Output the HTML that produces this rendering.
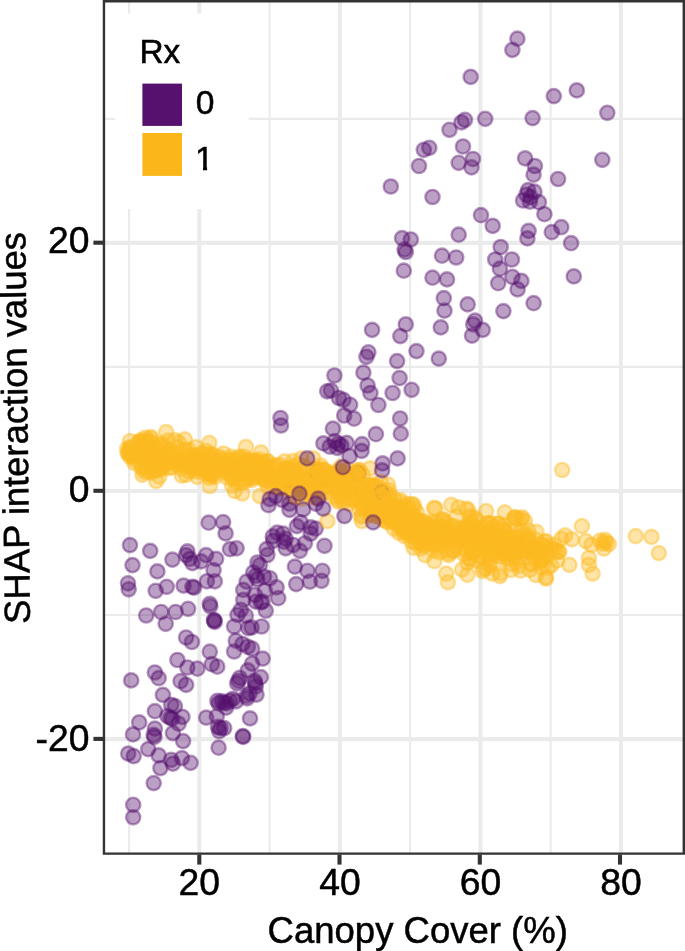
<!DOCTYPE html>
<html><head><meta charset="utf-8"><title>SHAP interaction plot</title>
<style>
html,body{margin:0;padding:0;background:#fff}
svg{display:block;will-change:transform}
text{font-family:"Liberation Sans",sans-serif;fill:#000;stroke:#000;stroke-width:0.5px}
</style></head><body>
<svg width="685" height="951" viewBox="0 0 685 951">
<rect width="685" height="951" fill="#fff"/>
<g stroke="#ebebeb"><line x1="129.1" x2="129.1" y1="2" y2="853" stroke-width="2.1"/><line x1="269.6" x2="269.6" y1="2" y2="853" stroke-width="2.1"/><line x1="410.1" x2="410.1" y1="2" y2="853" stroke-width="2.1"/><line x1="550.6" x2="550.6" y1="2" y2="853" stroke-width="2.1"/><line y1="118.9" y2="118.9" x1="105" x2="683" stroke-width="2.1"/><line y1="366.9" y2="366.9" x1="105" x2="683" stroke-width="2.1"/><line y1="615.0" y2="615.0" x1="105" x2="683" stroke-width="2.1"/><line x1="199.3" x2="199.3" y1="2" y2="853" stroke-width="4.1"/><line x1="339.9" x2="339.9" y1="2" y2="853" stroke-width="4.1"/><line x1="480.4" x2="480.4" y1="2" y2="853" stroke-width="4.1"/><line x1="620.9" x2="620.9" y1="2" y2="853" stroke-width="4.1"/><line y1="242.9" y2="242.9" x1="105" x2="683" stroke-width="4.1"/><line y1="491.0" y2="491.0" x1="105" x2="683" stroke-width="4.1"/><line y1="739.1" y2="739.1" x1="105" x2="683" stroke-width="4.1"/></g>
<g class="p" fill="#fcbb22" fill-opacity="0.4" stroke="#fcbb22" stroke-opacity="0.42" stroke-width="2.4"><circle cx="248.0" cy="477.1" r="7.15"/><circle cx="438.7" cy="529.3" r="7.15"/><circle cx="225.1" cy="467.0" r="7.15"/><circle cx="372.9" cy="506.8" r="7.15"/><circle cx="252.2" cy="479.8" r="7.15"/><circle cx="231.0" cy="462.4" r="7.15"/><circle cx="454.6" cy="538.8" r="7.15"/><circle cx="170.1" cy="462.1" r="7.15"/><circle cx="213.1" cy="466.9" r="7.15"/><circle cx="212.4" cy="475.7" r="7.15"/><circle cx="502.8" cy="557.5" r="7.15"/><circle cx="255.1" cy="468.2" r="7.15"/><circle cx="263.4" cy="479.1" r="7.15"/><circle cx="313.9" cy="484.6" r="7.15"/><circle cx="314.9" cy="482.8" r="7.15"/><circle cx="160.7" cy="468.1" r="7.15"/><circle cx="295.8" cy="485.8" r="7.15"/><circle cx="313.0" cy="473.5" r="7.15"/><circle cx="238.5" cy="473.1" r="7.15"/><circle cx="458.9" cy="528.3" r="7.15"/><circle cx="348.4" cy="488.0" r="7.15"/><circle cx="254.5" cy="462.4" r="7.15"/><circle cx="367.3" cy="494.5" r="7.15"/><circle cx="362.1" cy="515.6" r="7.15"/><circle cx="400.9" cy="500.3" r="7.15"/><circle cx="436.5" cy="522.6" r="7.15"/><circle cx="469.6" cy="558.5" r="7.15"/><circle cx="353.5" cy="482.7" r="7.15"/><circle cx="379.7" cy="504.5" r="7.15"/><circle cx="407.5" cy="509.4" r="7.15"/><circle cx="475.4" cy="550.3" r="7.15"/><circle cx="382.8" cy="519.6" r="7.15"/><circle cx="400.9" cy="527.0" r="7.15"/><circle cx="466.5" cy="535.1" r="7.15"/><circle cx="356.9" cy="498.5" r="7.15"/><circle cx="334.3" cy="476.8" r="7.15"/><circle cx="151.5" cy="447.6" r="7.15"/><circle cx="245.0" cy="464.0" r="7.15"/><circle cx="139.4" cy="441.5" r="7.15"/><circle cx="540.8" cy="555.1" r="7.15"/><circle cx="421.5" cy="532.2" r="7.15"/><circle cx="261.2" cy="473.5" r="7.15"/><circle cx="288.5" cy="472.0" r="7.15"/><circle cx="444.4" cy="527.7" r="7.15"/><circle cx="246.5" cy="463.7" r="7.15"/><circle cx="187.8" cy="461.6" r="7.15"/><circle cx="161.7" cy="446.6" r="7.15"/><circle cx="153.4" cy="446.6" r="7.15"/><circle cx="400.6" cy="523.8" r="7.15"/><circle cx="415.0" cy="517.5" r="7.15"/><circle cx="260.2" cy="465.0" r="7.15"/><circle cx="540.5" cy="550.5" r="7.15"/><circle cx="450.7" cy="525.6" r="7.15"/><circle cx="512.1" cy="537.4" r="7.15"/><circle cx="201.5" cy="453.3" r="7.15"/><circle cx="476.5" cy="520.8" r="7.15"/><circle cx="209.9" cy="473.0" r="7.15"/><circle cx="295.7" cy="470.3" r="7.15"/><circle cx="507.8" cy="553.2" r="7.15"/><circle cx="141.9" cy="468.1" r="7.15"/><circle cx="533.9" cy="555.3" r="7.15"/><circle cx="175.4" cy="461.4" r="7.15"/><circle cx="490.1" cy="538.2" r="7.15"/><circle cx="145.9" cy="461.0" r="7.15"/><circle cx="463.1" cy="529.7" r="7.15"/><circle cx="391.2" cy="520.0" r="7.15"/><circle cx="433.8" cy="550.7" r="7.15"/><circle cx="158.7" cy="463.4" r="7.15"/><circle cx="471.6" cy="533.0" r="7.15"/><circle cx="333.0" cy="477.0" r="7.15"/><circle cx="137.6" cy="455.9" r="7.15"/><circle cx="382.1" cy="493.9" r="7.15"/><circle cx="247.8" cy="475.1" r="7.15"/><circle cx="180.5" cy="460.4" r="7.15"/><circle cx="488.5" cy="523.4" r="7.15"/><circle cx="223.4" cy="453.5" r="7.15"/><circle cx="442.7" cy="519.5" r="7.15"/><circle cx="244.6" cy="456.9" r="7.15"/><circle cx="278.0" cy="477.2" r="7.15"/><circle cx="434.6" cy="526.8" r="7.15"/><circle cx="187.2" cy="456.2" r="7.15"/><circle cx="435.5" cy="532.2" r="7.15"/><circle cx="500.7" cy="556.3" r="7.15"/><circle cx="276.6" cy="477.8" r="7.15"/><circle cx="389.4" cy="494.5" r="7.15"/><circle cx="512.8" cy="555.6" r="7.15"/><circle cx="404.4" cy="511.8" r="7.15"/><circle cx="181.8" cy="475.6" r="7.15"/><circle cx="456.2" cy="516.6" r="7.15"/><circle cx="473.2" cy="547.3" r="7.15"/><circle cx="294.8" cy="474.7" r="7.15"/><circle cx="512.0" cy="564.1" r="7.15"/><circle cx="137.6" cy="452.1" r="7.15"/><circle cx="321.7" cy="468.8" r="7.15"/><circle cx="383.7" cy="490.3" r="7.15"/><circle cx="363.1" cy="498.2" r="7.15"/><circle cx="284.6" cy="461.4" r="7.15"/><circle cx="536.5" cy="531.9" r="7.15"/><circle cx="419.2" cy="537.7" r="7.15"/><circle cx="489.0" cy="565.4" r="7.15"/><circle cx="188.9" cy="455.3" r="7.15"/><circle cx="400.5" cy="516.5" r="7.15"/><circle cx="545.2" cy="556.4" r="7.15"/><circle cx="462.0" cy="569.6" r="7.15"/><circle cx="258.8" cy="459.3" r="7.15"/><circle cx="390.4" cy="505.8" r="7.15"/><circle cx="363.2" cy="507.4" r="7.15"/><circle cx="385.2" cy="497.7" r="7.15"/><circle cx="415.7" cy="531.3" r="7.15"/><circle cx="502.5" cy="548.1" r="7.15"/><circle cx="388.0" cy="506.2" r="7.15"/><circle cx="289.8" cy="489.3" r="7.15"/><circle cx="185.8" cy="459.8" r="7.15"/><circle cx="489.9" cy="542.5" r="7.15"/><circle cx="422.7" cy="544.6" r="7.15"/><circle cx="473.8" cy="527.2" r="7.15"/><circle cx="372.0" cy="493.9" r="7.15"/><circle cx="407.8" cy="504.1" r="7.15"/><circle cx="191.6" cy="468.8" r="7.15"/><circle cx="165.6" cy="447.7" r="7.15"/><circle cx="513.3" cy="519.5" r="7.15"/><circle cx="170.2" cy="450.2" r="7.15"/><circle cx="474.9" cy="533.1" r="7.15"/><circle cx="163.9" cy="464.0" r="7.15"/><circle cx="463.9" cy="554.2" r="7.15"/><circle cx="554.5" cy="544.8" r="7.15"/><circle cx="245.9" cy="461.4" r="7.15"/><circle cx="265.5" cy="468.5" r="7.15"/><circle cx="272.3" cy="476.4" r="7.15"/><circle cx="404.8" cy="520.2" r="7.15"/><circle cx="483.9" cy="527.1" r="7.15"/><circle cx="503.2" cy="553.8" r="7.15"/><circle cx="419.1" cy="533.2" r="7.15"/><circle cx="273.4" cy="485.0" r="7.15"/><circle cx="438.1" cy="534.8" r="7.15"/><circle cx="504.2" cy="532.3" r="7.15"/><circle cx="491.3" cy="554.2" r="7.15"/><circle cx="418.2" cy="536.9" r="7.15"/><circle cx="152.8" cy="450.5" r="7.15"/><circle cx="278.5" cy="488.6" r="7.15"/><circle cx="340.3" cy="487.8" r="7.15"/><circle cx="336.7" cy="475.4" r="7.15"/><circle cx="517.8" cy="538.1" r="7.15"/><circle cx="235.8" cy="475.2" r="7.15"/><circle cx="387.3" cy="506.7" r="7.15"/><circle cx="368.4" cy="488.8" r="7.15"/><circle cx="359.6" cy="470.1" r="7.15"/><circle cx="241.1" cy="483.2" r="7.15"/><circle cx="404.6" cy="536.3" r="7.15"/><circle cx="505.4" cy="549.1" r="7.15"/><circle cx="420.5" cy="526.7" r="7.15"/><circle cx="371.3" cy="488.9" r="7.15"/><circle cx="475.5" cy="550.8" r="7.15"/><circle cx="286.3" cy="468.9" r="7.15"/><circle cx="203.1" cy="469.5" r="7.15"/><circle cx="151.0" cy="472.6" r="7.15"/><circle cx="209.7" cy="462.9" r="7.15"/><circle cx="144.3" cy="471.8" r="7.15"/><circle cx="386.6" cy="521.4" r="7.15"/><circle cx="135.8" cy="455.1" r="7.15"/><circle cx="210.8" cy="465.1" r="7.15"/><circle cx="490.3" cy="554.9" r="7.15"/><circle cx="514.5" cy="552.4" r="7.15"/><circle cx="511.3" cy="539.5" r="7.15"/><circle cx="394.0" cy="519.1" r="7.15"/><circle cx="289.9" cy="470.8" r="7.15"/><circle cx="313.3" cy="458.4" r="7.15"/><circle cx="367.1" cy="485.3" r="7.15"/><circle cx="274.3" cy="465.8" r="7.15"/><circle cx="294.8" cy="474.0" r="7.15"/><circle cx="409.8" cy="521.6" r="7.15"/><circle cx="489.9" cy="563.7" r="7.15"/><circle cx="532.0" cy="564.5" r="7.15"/><circle cx="486.8" cy="537.9" r="7.15"/><circle cx="192.3" cy="458.7" r="7.15"/><circle cx="408.7" cy="508.8" r="7.15"/><circle cx="532.3" cy="553.1" r="7.15"/><circle cx="544.4" cy="545.5" r="7.15"/><circle cx="149.6" cy="461.5" r="7.15"/><circle cx="147.8" cy="471.6" r="7.15"/><circle cx="405.5" cy="516.1" r="7.15"/><circle cx="227.0" cy="467.7" r="7.15"/><circle cx="467.3" cy="531.2" r="7.15"/><circle cx="147.5" cy="442.4" r="7.15"/><circle cx="215.5" cy="467.7" r="7.15"/><circle cx="492.2" cy="573.6" r="7.15"/><circle cx="227.5" cy="473.7" r="7.15"/><circle cx="450.4" cy="528.8" r="7.15"/><circle cx="424.9" cy="525.8" r="7.15"/><circle cx="394.4" cy="517.7" r="7.15"/><circle cx="160.2" cy="463.8" r="7.15"/><circle cx="439.1" cy="539.6" r="7.15"/><circle cx="161.8" cy="443.6" r="7.15"/><circle cx="369.6" cy="510.3" r="7.15"/><circle cx="478.5" cy="550.9" r="7.15"/><circle cx="303.0" cy="477.4" r="7.15"/><circle cx="460.1" cy="535.0" r="7.15"/><circle cx="272.2" cy="473.6" r="7.15"/><circle cx="218.2" cy="470.1" r="7.15"/><circle cx="295.5" cy="480.3" r="7.15"/><circle cx="345.8" cy="479.1" r="7.15"/><circle cx="130.4" cy="450.3" r="7.15"/><circle cx="368.8" cy="508.9" r="7.15"/><circle cx="138.1" cy="452.2" r="7.15"/><circle cx="272.8" cy="480.5" r="7.15"/><circle cx="302.6" cy="474.1" r="7.15"/><circle cx="230.1" cy="459.7" r="7.15"/><circle cx="414.1" cy="508.1" r="7.15"/><circle cx="437.4" cy="543.2" r="7.15"/><circle cx="403.1" cy="531.7" r="7.15"/><circle cx="139.7" cy="445.9" r="7.15"/><circle cx="414.6" cy="531.1" r="7.15"/><circle cx="478.3" cy="531.4" r="7.15"/><circle cx="491.3" cy="529.3" r="7.15"/><circle cx="469.9" cy="518.1" r="7.15"/><circle cx="435.5" cy="508.5" r="7.15"/><circle cx="472.5" cy="527.8" r="7.15"/><circle cx="413.6" cy="535.1" r="7.15"/><circle cx="537.8" cy="548.1" r="7.15"/><circle cx="211.4" cy="470.9" r="7.15"/><circle cx="535.2" cy="551.2" r="7.15"/><circle cx="417.7" cy="528.9" r="7.15"/><circle cx="516.9" cy="551.3" r="7.15"/><circle cx="254.0" cy="462.7" r="7.15"/><circle cx="516.0" cy="536.6" r="7.15"/><circle cx="145.9" cy="443.6" r="7.15"/><circle cx="398.8" cy="532.8" r="7.15"/><circle cx="188.8" cy="449.7" r="7.15"/><circle cx="333.8" cy="496.3" r="7.15"/><circle cx="134.4" cy="463.1" r="7.15"/><circle cx="193.5" cy="465.4" r="7.15"/><circle cx="370.1" cy="468.4" r="7.15"/><circle cx="415.0" cy="537.8" r="7.15"/><circle cx="532.5" cy="547.6" r="7.15"/><circle cx="147.8" cy="456.1" r="7.15"/><circle cx="221.1" cy="458.6" r="7.15"/><circle cx="307.1" cy="492.9" r="7.15"/><circle cx="406.2" cy="523.9" r="7.15"/><circle cx="407.6" cy="534.6" r="7.15"/><circle cx="278.7" cy="477.2" r="7.15"/><circle cx="475.3" cy="536.7" r="7.15"/><circle cx="177.1" cy="456.5" r="7.15"/><circle cx="345.1" cy="492.8" r="7.15"/><circle cx="435.1" cy="546.1" r="7.15"/><circle cx="327.1" cy="472.0" r="7.15"/><circle cx="309.9" cy="489.5" r="7.15"/><circle cx="150.3" cy="442.1" r="7.15"/><circle cx="445.7" cy="522.8" r="7.15"/><circle cx="163.7" cy="465.3" r="7.15"/><circle cx="340.1" cy="471.5" r="7.15"/><circle cx="163.5" cy="459.9" r="7.15"/><circle cx="492.7" cy="549.4" r="7.15"/><circle cx="416.6" cy="520.3" r="7.15"/><circle cx="202.7" cy="466.0" r="7.15"/><circle cx="294.8" cy="480.1" r="7.15"/><circle cx="183.5" cy="465.2" r="7.15"/><circle cx="502.4" cy="528.8" r="7.15"/><circle cx="330.6" cy="483.1" r="7.15"/><circle cx="462.5" cy="547.4" r="7.15"/><circle cx="340.9" cy="493.2" r="7.15"/><circle cx="209.5" cy="466.9" r="7.15"/><circle cx="211.9" cy="475.4" r="7.15"/><circle cx="285.6" cy="488.5" r="7.15"/><circle cx="316.1" cy="473.7" r="7.15"/><circle cx="505.7" cy="547.5" r="7.15"/><circle cx="379.8" cy="506.5" r="7.15"/><circle cx="311.9" cy="496.8" r="7.15"/><circle cx="264.1" cy="473.8" r="7.15"/><circle cx="216.3" cy="468.6" r="7.15"/><circle cx="521.6" cy="544.6" r="7.15"/><circle cx="458.8" cy="540.7" r="7.15"/><circle cx="328.1" cy="485.3" r="7.15"/><circle cx="391.0" cy="505.8" r="7.15"/><circle cx="375.6" cy="501.6" r="7.15"/><circle cx="400.4" cy="519.2" r="7.15"/><circle cx="507.7" cy="558.8" r="7.15"/><circle cx="246.4" cy="474.7" r="7.15"/><circle cx="439.6" cy="552.5" r="7.15"/><circle cx="219.0" cy="456.7" r="7.15"/><circle cx="378.4" cy="488.5" r="7.15"/><circle cx="432.6" cy="528.0" r="7.15"/><circle cx="163.5" cy="462.4" r="7.15"/><circle cx="470.8" cy="559.2" r="7.15"/><circle cx="481.5" cy="535.3" r="7.15"/><circle cx="336.5" cy="488.1" r="7.15"/><circle cx="500.2" cy="540.5" r="7.15"/><circle cx="420.3" cy="535.5" r="7.15"/><circle cx="270.7" cy="473.6" r="7.15"/><circle cx="468.1" cy="509.9" r="7.15"/><circle cx="153.8" cy="464.3" r="7.15"/><circle cx="395.6" cy="522.9" r="7.15"/><circle cx="378.2" cy="491.6" r="7.15"/><circle cx="559.3" cy="551.8" r="7.15"/><circle cx="316.2" cy="498.2" r="7.15"/><circle cx="127.7" cy="453.1" r="7.15"/><circle cx="179.1" cy="460.6" r="7.15"/><circle cx="387.8" cy="522.3" r="7.15"/><circle cx="150.8" cy="461.9" r="7.15"/><circle cx="195.9" cy="461.6" r="7.15"/><circle cx="503.1" cy="553.3" r="7.15"/><circle cx="286.3" cy="468.8" r="7.15"/><circle cx="279.0" cy="482.1" r="7.15"/><circle cx="530.3" cy="545.1" r="7.15"/><circle cx="378.8" cy="508.6" r="7.15"/><circle cx="330.6" cy="487.2" r="7.15"/><circle cx="233.8" cy="476.8" r="7.15"/><circle cx="439.4" cy="544.0" r="7.15"/><circle cx="383.1" cy="496.9" r="7.15"/><circle cx="156.8" cy="470.0" r="7.15"/><circle cx="338.7" cy="490.6" r="7.15"/><circle cx="263.4" cy="467.4" r="7.15"/><circle cx="371.3" cy="486.3" r="7.15"/><circle cx="435.9" cy="531.5" r="7.15"/><circle cx="210.5" cy="454.6" r="7.15"/><circle cx="369.6" cy="496.8" r="7.15"/><circle cx="465.0" cy="541.3" r="7.15"/><circle cx="442.5" cy="521.3" r="7.15"/><circle cx="464.3" cy="539.5" r="7.15"/><circle cx="152.0" cy="443.2" r="7.15"/><circle cx="283.9" cy="469.7" r="7.15"/><circle cx="141.4" cy="455.0" r="7.15"/><circle cx="284.4" cy="483.7" r="7.15"/><circle cx="326.4" cy="481.0" r="7.15"/><circle cx="178.8" cy="442.3" r="7.15"/><circle cx="364.5" cy="502.2" r="7.15"/><circle cx="267.8" cy="486.8" r="7.15"/><circle cx="487.7" cy="554.1" r="7.15"/><circle cx="195.2" cy="471.3" r="7.15"/><circle cx="484.0" cy="537.4" r="7.15"/><circle cx="264.1" cy="462.2" r="7.15"/><circle cx="290.4" cy="477.2" r="7.15"/><circle cx="253.9" cy="476.9" r="7.15"/><circle cx="554.6" cy="549.3" r="7.15"/><circle cx="337.8" cy="499.9" r="7.15"/><circle cx="477.4" cy="534.1" r="7.15"/><circle cx="235.7" cy="469.1" r="7.15"/><circle cx="263.6" cy="471.4" r="7.15"/><circle cx="265.7" cy="481.0" r="7.15"/><circle cx="413.1" cy="515.1" r="7.15"/><circle cx="351.9" cy="497.3" r="7.15"/><circle cx="207.8" cy="468.4" r="7.15"/><circle cx="252.2" cy="473.1" r="7.15"/><circle cx="389.0" cy="517.6" r="7.15"/><circle cx="408.2" cy="532.5" r="7.15"/><circle cx="138.6" cy="456.7" r="7.15"/><circle cx="482.5" cy="557.1" r="7.15"/><circle cx="318.6" cy="473.6" r="7.15"/><circle cx="437.1" cy="539.1" r="7.15"/><circle cx="143.5" cy="447.6" r="7.15"/><circle cx="229.7" cy="462.4" r="7.15"/><circle cx="202.4" cy="464.4" r="7.15"/><circle cx="330.1" cy="473.9" r="7.15"/><circle cx="234.1" cy="466.9" r="7.15"/><circle cx="196.6" cy="457.7" r="7.15"/><circle cx="356.7" cy="487.2" r="7.15"/><circle cx="516.6" cy="551.7" r="7.15"/><circle cx="551.4" cy="565.4" r="7.15"/><circle cx="534.5" cy="559.9" r="7.15"/><circle cx="516.2" cy="562.9" r="7.15"/><circle cx="540.9" cy="554.2" r="7.15"/><circle cx="473.9" cy="528.0" r="7.15"/><circle cx="505.9" cy="530.7" r="7.15"/><circle cx="416.3" cy="528.8" r="7.15"/><circle cx="192.1" cy="455.3" r="7.15"/><circle cx="417.0" cy="512.4" r="7.15"/><circle cx="301.3" cy="458.6" r="7.15"/><circle cx="333.8" cy="474.4" r="7.15"/><circle cx="556.6" cy="551.4" r="7.15"/><circle cx="233.3" cy="468.3" r="7.15"/><circle cx="541.9" cy="567.5" r="7.15"/><circle cx="496.8" cy="543.6" r="7.15"/><circle cx="374.2" cy="486.1" r="7.15"/><circle cx="347.7" cy="473.3" r="7.15"/><circle cx="286.1" cy="478.9" r="7.15"/><circle cx="162.7" cy="458.1" r="7.15"/><circle cx="293.0" cy="496.6" r="7.15"/><circle cx="357.3" cy="471.0" r="7.15"/><circle cx="298.1" cy="478.8" r="7.15"/><circle cx="509.8" cy="551.8" r="7.15"/><circle cx="527.0" cy="550.8" r="7.15"/><circle cx="363.6" cy="508.2" r="7.15"/><circle cx="410.2" cy="522.8" r="7.15"/><circle cx="254.1" cy="477.7" r="7.15"/><circle cx="493.1" cy="541.3" r="7.15"/><circle cx="325.5" cy="478.8" r="7.15"/><circle cx="257.3" cy="467.7" r="7.15"/><circle cx="399.3" cy="508.5" r="7.15"/><circle cx="275.7" cy="478.0" r="7.15"/><circle cx="177.4" cy="465.0" r="7.15"/><circle cx="149.4" cy="448.0" r="7.15"/><circle cx="337.9" cy="501.5" r="7.15"/><circle cx="274.3" cy="479.3" r="7.15"/><circle cx="344.8" cy="489.1" r="7.15"/><circle cx="302.1" cy="498.5" r="7.15"/><circle cx="406.0" cy="516.7" r="7.15"/><circle cx="252.0" cy="470.4" r="7.15"/><circle cx="347.4" cy="485.3" r="7.15"/><circle cx="246.7" cy="460.0" r="7.15"/><circle cx="307.5" cy="487.4" r="7.15"/><circle cx="230.4" cy="472.8" r="7.15"/><circle cx="517.4" cy="542.0" r="7.15"/><circle cx="144.0" cy="444.0" r="7.15"/><circle cx="305.5" cy="478.5" r="7.15"/><circle cx="530.5" cy="563.2" r="7.15"/><circle cx="320.7" cy="465.5" r="7.15"/><circle cx="464.8" cy="529.7" r="7.15"/><circle cx="306.0" cy="471.2" r="7.15"/><circle cx="132.4" cy="455.4" r="7.15"/><circle cx="196.5" cy="463.5" r="7.15"/><circle cx="309.9" cy="485.6" r="7.15"/><circle cx="487.3" cy="548.0" r="7.15"/><circle cx="453.9" cy="550.7" r="7.15"/><circle cx="487.8" cy="532.6" r="7.15"/><circle cx="254.5" cy="465.3" r="7.15"/><circle cx="406.9" cy="520.3" r="7.15"/><circle cx="431.2" cy="528.2" r="7.15"/><circle cx="357.4" cy="482.5" r="7.15"/><circle cx="456.3" cy="547.0" r="7.15"/><circle cx="435.9" cy="529.9" r="7.15"/><circle cx="440.8" cy="545.5" r="7.15"/><circle cx="145.7" cy="437.6" r="7.15"/><circle cx="415.2" cy="529.1" r="7.15"/><circle cx="254.4" cy="460.7" r="7.15"/><circle cx="242.7" cy="464.9" r="7.15"/><circle cx="417.6" cy="521.0" r="7.15"/><circle cx="516.4" cy="534.4" r="7.15"/><circle cx="167.9" cy="440.6" r="7.15"/><circle cx="184.8" cy="455.9" r="7.15"/><circle cx="484.3" cy="528.7" r="7.15"/><circle cx="279.4" cy="464.8" r="7.15"/><circle cx="379.1" cy="508.5" r="7.15"/><circle cx="321.9" cy="479.4" r="7.15"/><circle cx="531.2" cy="549.8" r="7.15"/><circle cx="255.6" cy="461.5" r="7.15"/><circle cx="383.2" cy="515.1" r="7.15"/><circle cx="413.8" cy="532.7" r="7.15"/><circle cx="127.0" cy="448.8" r="7.15"/><circle cx="373.3" cy="484.6" r="7.15"/><circle cx="422.4" cy="543.7" r="7.15"/><circle cx="430.5" cy="527.1" r="7.15"/><circle cx="149.3" cy="445.6" r="7.15"/><circle cx="298.8" cy="464.3" r="7.15"/><circle cx="450.1" cy="535.6" r="7.15"/><circle cx="198.3" cy="455.9" r="7.15"/><circle cx="200.6" cy="467.7" r="7.15"/><circle cx="515.0" cy="542.5" r="7.15"/><circle cx="492.1" cy="552.7" r="7.15"/><circle cx="172.5" cy="455.0" r="7.15"/><circle cx="295.3" cy="497.1" r="7.15"/><circle cx="235.4" cy="464.9" r="7.15"/><circle cx="180.1" cy="463.2" r="7.15"/><circle cx="501.6" cy="534.6" r="7.15"/><circle cx="492.3" cy="547.7" r="7.15"/><circle cx="137.6" cy="442.9" r="7.15"/><circle cx="520.5" cy="544.1" r="7.15"/><circle cx="404.5" cy="530.7" r="7.15"/><circle cx="188.9" cy="471.1" r="7.15"/><circle cx="227.2" cy="468.6" r="7.15"/><circle cx="541.0" cy="544.1" r="7.15"/><circle cx="243.1" cy="478.8" r="7.15"/><circle cx="363.9" cy="491.0" r="7.15"/><circle cx="340.4" cy="467.2" r="7.15"/><circle cx="224.4" cy="465.7" r="7.15"/><circle cx="208.0" cy="466.4" r="7.15"/><circle cx="209.7" cy="474.1" r="7.15"/><circle cx="269.2" cy="470.6" r="7.15"/><circle cx="228.9" cy="464.1" r="7.15"/><circle cx="447.2" cy="550.0" r="7.15"/><circle cx="397.8" cy="522.5" r="7.15"/><circle cx="387.9" cy="484.5" r="7.15"/><circle cx="286.8" cy="471.0" r="7.15"/><circle cx="326.6" cy="487.0" r="7.15"/><circle cx="431.4" cy="522.5" r="7.15"/><circle cx="400.1" cy="502.3" r="7.15"/><circle cx="393.9" cy="528.7" r="7.15"/><circle cx="471.1" cy="522.9" r="7.15"/><circle cx="506.6" cy="546.7" r="7.15"/><circle cx="250.5" cy="469.6" r="7.15"/><circle cx="512.2" cy="552.6" r="7.15"/><circle cx="442.4" cy="536.9" r="7.15"/><circle cx="217.3" cy="467.7" r="7.15"/><circle cx="338.4" cy="472.2" r="7.15"/><circle cx="400.6" cy="517.9" r="7.15"/><circle cx="312.8" cy="480.3" r="7.15"/><circle cx="298.0" cy="481.3" r="7.15"/><circle cx="483.8" cy="550.1" r="7.15"/><circle cx="471.8" cy="553.0" r="7.15"/><circle cx="197.3" cy="476.9" r="7.15"/><circle cx="256.5" cy="461.1" r="7.15"/><circle cx="518.8" cy="558.1" r="7.15"/><circle cx="416.4" cy="535.9" r="7.15"/><circle cx="388.2" cy="507.2" r="7.15"/><circle cx="383.6" cy="516.8" r="7.15"/><circle cx="489.4" cy="535.5" r="7.15"/><circle cx="200.3" cy="465.8" r="7.15"/><circle cx="407.1" cy="522.9" r="7.15"/><circle cx="217.1" cy="461.2" r="7.15"/><circle cx="500.3" cy="537.8" r="7.15"/><circle cx="541.3" cy="559.8" r="7.15"/><circle cx="263.1" cy="462.7" r="7.15"/><circle cx="458.7" cy="538.8" r="7.15"/><circle cx="371.5" cy="498.2" r="7.15"/><circle cx="414.8" cy="522.9" r="7.15"/><circle cx="371.0" cy="509.8" r="7.15"/><circle cx="239.7" cy="469.7" r="7.15"/><circle cx="239.4" cy="456.6" r="7.15"/><circle cx="197.5" cy="467.6" r="7.15"/><circle cx="315.8" cy="480.4" r="7.15"/><circle cx="478.5" cy="533.6" r="7.15"/><circle cx="304.9" cy="481.4" r="7.15"/><circle cx="392.0" cy="510.4" r="7.15"/><circle cx="173.1" cy="461.4" r="7.15"/><circle cx="185.3" cy="449.8" r="7.15"/><circle cx="260.6" cy="469.5" r="7.15"/><circle cx="464.7" cy="529.6" r="7.15"/><circle cx="202.3" cy="472.5" r="7.15"/><circle cx="261.6" cy="476.9" r="7.15"/><circle cx="424.2" cy="521.1" r="7.15"/><circle cx="439.7" cy="529.1" r="7.15"/><circle cx="389.8" cy="509.0" r="7.15"/><circle cx="528.5" cy="542.5" r="7.15"/><circle cx="352.2" cy="498.1" r="7.15"/><circle cx="232.1" cy="485.7" r="7.15"/><circle cx="177.4" cy="447.1" r="7.15"/><circle cx="363.8" cy="507.0" r="7.15"/></g>
<g class="p" fill="#56106e" fill-opacity="0.4" stroke="#56106e" stroke-opacity="0.42" stroke-width="2.4"><circle cx="517.4" cy="38.7" r="7.15"/><circle cx="512.4" cy="49.9" r="7.15"/><circle cx="470.7" cy="76.9" r="7.15"/><circle cx="553.8" cy="96.1" r="7.15"/><circle cx="576.8" cy="90.4" r="7.15"/><circle cx="607.3" cy="112.8" r="7.15"/><circle cx="532.6" cy="118.1" r="7.15"/><circle cx="485.2" cy="118.8" r="7.15"/><circle cx="465.0" cy="119.8" r="7.15"/><circle cx="461.5" cy="122.3" r="7.15"/><circle cx="449.5" cy="129.8" r="7.15"/><circle cx="463.0" cy="146.5" r="7.15"/><circle cx="473.0" cy="159.0" r="7.15"/><circle cx="458.7" cy="162.8" r="7.15"/><circle cx="471.5" cy="167.3" r="7.15"/><circle cx="525.1" cy="158.3" r="7.15"/><circle cx="534.9" cy="166.0" r="7.15"/><circle cx="533.6" cy="174.7" r="7.15"/><circle cx="558.1" cy="179.0" r="7.15"/><circle cx="602.3" cy="159.8" r="7.15"/><circle cx="528.1" cy="190.2" r="7.15"/><circle cx="534.4" cy="191.7" r="7.15"/><circle cx="526.4" cy="194.7" r="7.15"/><circle cx="530.6" cy="197.2" r="7.15"/><circle cx="523.1" cy="200.5" r="7.15"/><circle cx="529.9" cy="201.7" r="7.15"/><circle cx="538.9" cy="202.2" r="7.15"/><circle cx="544.4" cy="214.2" r="7.15"/><circle cx="481.0" cy="215.2" r="7.15"/><circle cx="492.7" cy="225.9" r="7.15"/><circle cx="458.7" cy="234.7" r="7.15"/><circle cx="528.6" cy="230.9" r="7.15"/><circle cx="551.8" cy="232.2" r="7.15"/><circle cx="561.3" cy="227.2" r="7.15"/><circle cx="527.4" cy="238.4" r="7.15"/><circle cx="571.1" cy="243.2" r="7.15"/><circle cx="500.7" cy="247.0" r="7.15"/><circle cx="456.2" cy="257.5" r="7.15"/><circle cx="495.2" cy="259.5" r="7.15"/><circle cx="511.9" cy="259.5" r="7.15"/><circle cx="499.9" cy="268.7" r="7.15"/><circle cx="573.8" cy="276.4" r="7.15"/><circle cx="512.4" cy="276.9" r="7.15"/><circle cx="521.4" cy="280.9" r="7.15"/><circle cx="498.2" cy="283.2" r="7.15"/><circle cx="517.6" cy="289.4" r="7.15"/><circle cx="447.0" cy="279.4" r="7.15"/><circle cx="467.7" cy="304.4" r="7.15"/><circle cx="533.6" cy="303.2" r="7.15"/><circle cx="503.4" cy="311.1" r="7.15"/><circle cx="475.0" cy="320.6" r="7.15"/><circle cx="473.2" cy="324.4" r="7.15"/><circle cx="482.7" cy="329.9" r="7.15"/><circle cx="472.0" cy="335.6" r="7.15"/><circle cx="429.3" cy="147.8" r="7.15"/><circle cx="423.8" cy="149.8" r="7.15"/><circle cx="419.0" cy="166.0" r="7.15"/><circle cx="390.8" cy="186.5" r="7.15"/><circle cx="432.5" cy="197.0" r="7.15"/><circle cx="402.1" cy="238.2" r="7.15"/><circle cx="410.8" cy="239.5" r="7.15"/><circle cx="404.6" cy="249.5" r="7.15"/><circle cx="405.8" cy="252.0" r="7.15"/><circle cx="442.0" cy="255.7" r="7.15"/><circle cx="403.8" cy="270.7" r="7.15"/><circle cx="432.5" cy="277.7" r="7.15"/><circle cx="443.8" cy="298.2" r="7.15"/><circle cx="444.5" cy="310.6" r="7.15"/><circle cx="440.8" cy="327.4" r="7.15"/><circle cx="405.8" cy="324.4" r="7.15"/><circle cx="372.1" cy="329.9" r="7.15"/><circle cx="400.3" cy="336.1" r="7.15"/><circle cx="416.5" cy="351.1" r="7.15"/><circle cx="438.8" cy="358.6" r="7.15"/><circle cx="368.4" cy="352.3" r="7.15"/><circle cx="366.4" cy="356.8" r="7.15"/><circle cx="397.1" cy="361.1" r="7.15"/><circle cx="363.4" cy="372.6" r="7.15"/><circle cx="334.4" cy="375.5" r="7.15"/><circle cx="399.6" cy="378.0" r="7.15"/><circle cx="367.6" cy="385.5" r="7.15"/><circle cx="411.6" cy="389.8" r="7.15"/><circle cx="327.2" cy="391.3" r="7.15"/><circle cx="330.9" cy="390.5" r="7.15"/><circle cx="370.4" cy="393.0" r="7.15"/><circle cx="392.6" cy="393.0" r="7.15"/><circle cx="338.9" cy="398.0" r="7.15"/><circle cx="343.4" cy="399.8" r="7.15"/><circle cx="350.1" cy="404.8" r="7.15"/><circle cx="378.4" cy="405.0" r="7.15"/><circle cx="344.2" cy="415.5" r="7.15"/><circle cx="354.1" cy="418.7" r="7.15"/><circle cx="400.1" cy="418.5" r="7.15"/><circle cx="280.5" cy="418.0" r="7.15"/><circle cx="281.0" cy="425.5" r="7.15"/><circle cx="332.9" cy="428.7" r="7.15"/><circle cx="375.9" cy="434.2" r="7.15"/><circle cx="400.8" cy="433.7" r="7.15"/><circle cx="323.4" cy="443.4" r="7.15"/><circle cx="334.7" cy="441.2" r="7.15"/><circle cx="338.4" cy="443.7" r="7.15"/><circle cx="341.4" cy="445.4" r="7.15"/><circle cx="346.6" cy="442.9" r="7.15"/><circle cx="329.7" cy="446.7" r="7.15"/><circle cx="337.2" cy="447.9" r="7.15"/><circle cx="362.1" cy="444.2" r="7.15"/><circle cx="361.6" cy="450.9" r="7.15"/><circle cx="317.2" cy="471.7" r="7.15"/><circle cx="130.0" cy="545.1" r="7.15"/><circle cx="150.2" cy="550.9" r="7.15"/><circle cx="132.5" cy="565.1" r="7.15"/><circle cx="157.4" cy="571.4" r="7.15"/><circle cx="128.0" cy="583.3" r="7.15"/><circle cx="128.7" cy="589.3" r="7.15"/><circle cx="155.7" cy="590.8" r="7.15"/><circle cx="166.7" cy="586.8" r="7.15"/><circle cx="172.4" cy="559.6" r="7.15"/><circle cx="187.4" cy="551.4" r="7.15"/><circle cx="186.1" cy="555.1" r="7.15"/><circle cx="189.9" cy="558.9" r="7.15"/><circle cx="192.4" cy="563.1" r="7.15"/><circle cx="201.1" cy="561.4" r="7.15"/><circle cx="206.1" cy="555.1" r="7.15"/><circle cx="216.1" cy="558.9" r="7.15"/><circle cx="213.6" cy="570.1" r="7.15"/><circle cx="206.9" cy="581.3" r="7.15"/><circle cx="214.8" cy="581.3" r="7.15"/><circle cx="183.6" cy="585.6" r="7.15"/><circle cx="192.4" cy="586.8" r="7.15"/><circle cx="194.1" cy="587.6" r="7.15"/><circle cx="208.6" cy="522.7" r="7.15"/><circle cx="223.1" cy="522.2" r="7.15"/><circle cx="225.6" cy="533.4" r="7.15"/><circle cx="209.8" cy="603.8" r="7.15"/><circle cx="210.3" cy="606.3" r="7.15"/><circle cx="214.1" cy="620.0" r="7.15"/><circle cx="214.8" cy="621.8" r="7.15"/><circle cx="214.1" cy="620.8" r="7.15"/><circle cx="146.2" cy="615.5" r="7.15"/><circle cx="161.2" cy="612.0" r="7.15"/><circle cx="175.6" cy="612.0" r="7.15"/><circle cx="188.1" cy="608.8" r="7.15"/><circle cx="165.7" cy="623.8" r="7.15"/><circle cx="186.1" cy="637.5" r="7.15"/><circle cx="191.9" cy="642.0" r="7.15"/><circle cx="209.8" cy="651.7" r="7.15"/><circle cx="177.4" cy="660.0" r="7.15"/><circle cx="187.4" cy="667.5" r="7.15"/><circle cx="197.4" cy="668.7" r="7.15"/><circle cx="211.8" cy="664.2" r="7.15"/><circle cx="217.3" cy="666.7" r="7.15"/><circle cx="154.9" cy="672.5" r="7.15"/><circle cx="158.7" cy="678.2" r="7.15"/><circle cx="131.2" cy="680.4" r="7.15"/><circle cx="180.6" cy="681.2" r="7.15"/><circle cx="186.1" cy="684.9" r="7.15"/><circle cx="162.9" cy="694.9" r="7.15"/><circle cx="171.2" cy="704.9" r="7.15"/><circle cx="174.9" cy="706.2" r="7.15"/><circle cx="154.9" cy="711.2" r="7.15"/><circle cx="272.8" cy="536.4" r="7.15"/><circle cx="277.2" cy="532.7" r="7.15"/><circle cx="230.0" cy="549.2" r="7.15"/><circle cx="236.6" cy="548.3" r="7.15"/><circle cx="266.6" cy="549.2" r="7.15"/><circle cx="267.4" cy="555.0" r="7.15"/><circle cx="257.4" cy="562.5" r="7.15"/><circle cx="259.9" cy="565.0" r="7.15"/><circle cx="253.3" cy="572.5" r="7.15"/><circle cx="255.8" cy="575.8" r="7.15"/><circle cx="257.4" cy="579.1" r="7.15"/><circle cx="264.1" cy="576.6" r="7.15"/><circle cx="269.9" cy="578.3" r="7.15"/><circle cx="246.6" cy="581.6" r="7.15"/><circle cx="276.6" cy="587.4" r="7.15"/><circle cx="264.9" cy="590.8" r="7.15"/><circle cx="243.3" cy="589.9" r="7.15"/><circle cx="254.9" cy="594.9" r="7.15"/><circle cx="278.2" cy="598.2" r="7.15"/><circle cx="243.3" cy="599.9" r="7.15"/><circle cx="255.8" cy="601.6" r="7.15"/><circle cx="260.8" cy="602.4" r="7.15"/><circle cx="262.4" cy="601.6" r="7.15"/><circle cx="240.8" cy="609.9" r="7.15"/><circle cx="265.8" cy="610.7" r="7.15"/><circle cx="237.5" cy="614.9" r="7.15"/><circle cx="245.8" cy="615.7" r="7.15"/><circle cx="234.1" cy="626.5" r="7.15"/><circle cx="248.3" cy="628.2" r="7.15"/><circle cx="251.6" cy="627.4" r="7.15"/><circle cx="261.6" cy="626.5" r="7.15"/><circle cx="235.8" cy="640.7" r="7.15"/><circle cx="242.5" cy="644.0" r="7.15"/><circle cx="247.8" cy="646.8" r="7.15"/><circle cx="234.1" cy="651.5" r="7.15"/><circle cx="294.9" cy="566.6" r="7.15"/><circle cx="307.4" cy="570.8" r="7.15"/><circle cx="322.4" cy="570.8" r="7.15"/><circle cx="296.2" cy="584.1" r="7.15"/><circle cx="309.9" cy="581.6" r="7.15"/><circle cx="321.5" cy="580.8" r="7.15"/><circle cx="324.5" cy="545.8" r="7.15"/><circle cx="285.7" cy="548.3" r="7.15"/><circle cx="299.9" cy="550.8" r="7.15"/><circle cx="293.2" cy="545.0" r="7.15"/><circle cx="304.9" cy="543.3" r="7.15"/><circle cx="284.1" cy="541.7" r="7.15"/><circle cx="273.3" cy="540.8" r="7.15"/><circle cx="252.1" cy="648.7" r="7.15"/><circle cx="262.7" cy="658.6" r="7.15"/><circle cx="252.1" cy="663.6" r="7.15"/><circle cx="247.8" cy="670.4" r="7.15"/><circle cx="260.8" cy="677.2" r="7.15"/><circle cx="239.7" cy="677.8" r="7.15"/><circle cx="238.5" cy="680.9" r="7.15"/><circle cx="237.2" cy="683.4" r="7.15"/><circle cx="254.6" cy="680.9" r="7.15"/><circle cx="255.2" cy="683.4" r="7.15"/><circle cx="255.8" cy="686.5" r="7.15"/><circle cx="256.5" cy="694.6" r="7.15"/><circle cx="246.5" cy="695.8" r="7.15"/><circle cx="247.2" cy="698.3" r="7.15"/><circle cx="249.6" cy="693.4" r="7.15"/><circle cx="217.4" cy="700.8" r="7.15"/><circle cx="218.6" cy="703.3" r="7.15"/><circle cx="221.7" cy="701.4" r="7.15"/><circle cx="224.2" cy="702.7" r="7.15"/><circle cx="226.7" cy="703.3" r="7.15"/><circle cx="229.8" cy="700.8" r="7.15"/><circle cx="232.9" cy="698.9" r="7.15"/><circle cx="236.0" cy="701.4" r="7.15"/><circle cx="226.1" cy="707.6" r="7.15"/><circle cx="206.2" cy="717.6" r="7.15"/><circle cx="216.8" cy="716.3" r="7.15"/><circle cx="250.0" cy="718.4" r="7.15"/><circle cx="218.0" cy="726.9" r="7.15"/><circle cx="220.5" cy="728.1" r="7.15"/><circle cx="224.2" cy="728.1" r="7.15"/><circle cx="219.2" cy="731.2" r="7.15"/><circle cx="242.8" cy="736.2" r="7.15"/><circle cx="243.2" cy="736.8" r="7.15"/><circle cx="218.6" cy="747.7" r="7.15"/><circle cx="167.4" cy="716.2" r="7.15"/><circle cx="170.4" cy="717.9" r="7.15"/><circle cx="172.4" cy="718.7" r="7.15"/><circle cx="182.4" cy="716.9" r="7.15"/><circle cx="178.6" cy="723.7" r="7.15"/><circle cx="139.2" cy="722.4" r="7.15"/><circle cx="154.9" cy="728.6" r="7.15"/><circle cx="153.7" cy="734.9" r="7.15"/><circle cx="154.4" cy="736.9" r="7.15"/><circle cx="172.9" cy="733.1" r="7.15"/><circle cx="133.0" cy="734.4" r="7.15"/><circle cx="183.1" cy="741.1" r="7.15"/><circle cx="148.2" cy="749.1" r="7.15"/><circle cx="128.2" cy="753.6" r="7.15"/><circle cx="133.7" cy="756.1" r="7.15"/><circle cx="158.7" cy="755.4" r="7.15"/><circle cx="171.2" cy="759.9" r="7.15"/><circle cx="172.9" cy="763.6" r="7.15"/><circle cx="181.9" cy="758.1" r="7.15"/><circle cx="190.6" cy="762.8" r="7.15"/><circle cx="160.4" cy="768.1" r="7.15"/><circle cx="153.7" cy="783.1" r="7.15"/><circle cx="133.2" cy="804.8" r="7.15"/><circle cx="133.2" cy="817.3" r="7.15"/><circle cx="324.4" cy="477.4" r="7.15"/><circle cx="288.2" cy="479.9" r="7.15"/><circle cx="358.1" cy="473.7" r="7.15"/><circle cx="381.3" cy="492.4" r="7.15"/><circle cx="296.9" cy="526.1" r="7.15"/><circle cx="300.7" cy="522.4" r="7.15"/><circle cx="310.7" cy="527.4" r="7.15"/><circle cx="315.7" cy="528.6" r="7.15"/><circle cx="310.7" cy="533.6" r="7.15"/><circle cx="283.2" cy="533.6" r="7.15"/><circle cx="285.7" cy="538.6" r="7.15"/></g>
<g class="p" fill="#fcbb22" fill-opacity="0.4" stroke="#fcbb22" stroke-opacity="0.42" stroke-width="2.4"><circle cx="209.6" cy="471.4" r="7.15"/><circle cx="520.5" cy="570.7" r="7.15"/><circle cx="319.5" cy="471.9" r="7.15"/><circle cx="451.7" cy="535.2" r="7.15"/><circle cx="251.7" cy="463.4" r="7.15"/><circle cx="248.2" cy="479.2" r="7.15"/><circle cx="295.4" cy="478.6" r="7.15"/><circle cx="475.9" cy="518.5" r="7.15"/><circle cx="263.6" cy="464.8" r="7.15"/><circle cx="448.7" cy="555.2" r="7.15"/><circle cx="483.7" cy="569.0" r="7.15"/><circle cx="466.3" cy="526.5" r="7.15"/><circle cx="540.2" cy="562.7" r="7.15"/><circle cx="294.4" cy="489.7" r="7.15"/><circle cx="348.2" cy="487.7" r="7.15"/><circle cx="468.3" cy="532.8" r="7.15"/><circle cx="535.5" cy="547.9" r="7.15"/><circle cx="161.3" cy="454.6" r="7.15"/><circle cx="423.2" cy="545.7" r="7.15"/><circle cx="410.9" cy="535.2" r="7.15"/><circle cx="500.4" cy="573.2" r="7.15"/><circle cx="256.5" cy="463.0" r="7.15"/><circle cx="451.2" cy="534.8" r="7.15"/><circle cx="143.8" cy="441.3" r="7.15"/><circle cx="485.6" cy="537.9" r="7.15"/><circle cx="261.8" cy="466.3" r="7.15"/><circle cx="384.6" cy="510.6" r="7.15"/><circle cx="426.7" cy="536.5" r="7.15"/><circle cx="307.0" cy="490.0" r="7.15"/><circle cx="324.6" cy="480.5" r="7.15"/><circle cx="390.6" cy="519.8" r="7.15"/><circle cx="389.4" cy="504.3" r="7.15"/><circle cx="507.8" cy="548.0" r="7.15"/><circle cx="361.5" cy="485.8" r="7.15"/><circle cx="398.9" cy="520.8" r="7.15"/><circle cx="458.6" cy="542.2" r="7.15"/><circle cx="260.5" cy="475.1" r="7.15"/><circle cx="348.0" cy="469.7" r="7.15"/><circle cx="292.5" cy="468.8" r="7.15"/><circle cx="333.5" cy="474.8" r="7.15"/><circle cx="141.8" cy="454.6" r="7.15"/><circle cx="161.1" cy="446.8" r="7.15"/><circle cx="394.6" cy="507.6" r="7.15"/><circle cx="368.9" cy="498.7" r="7.15"/><circle cx="476.7" cy="528.5" r="7.15"/><circle cx="316.8" cy="469.3" r="7.15"/><circle cx="238.5" cy="458.2" r="7.15"/><circle cx="467.5" cy="563.1" r="7.15"/><circle cx="399.5" cy="523.5" r="7.15"/><circle cx="505.5" cy="541.0" r="7.15"/><circle cx="159.0" cy="468.1" r="7.15"/><circle cx="132.0" cy="454.9" r="7.15"/><circle cx="277.8" cy="479.5" r="7.15"/><circle cx="150.6" cy="466.5" r="7.15"/><circle cx="411.6" cy="541.6" r="7.15"/><circle cx="490.2" cy="535.0" r="7.15"/><circle cx="481.0" cy="539.5" r="7.15"/><circle cx="545.8" cy="541.0" r="7.15"/><circle cx="493.8" cy="526.4" r="7.15"/><circle cx="346.4" cy="491.9" r="7.15"/><circle cx="374.9" cy="511.6" r="7.15"/><circle cx="195.3" cy="461.8" r="7.15"/><circle cx="320.1" cy="489.9" r="7.15"/><circle cx="499.4" cy="548.7" r="7.15"/><circle cx="410.8" cy="515.6" r="7.15"/><circle cx="170.2" cy="457.4" r="7.15"/><circle cx="252.7" cy="460.7" r="7.15"/><circle cx="434.0" cy="544.6" r="7.15"/><circle cx="488.6" cy="535.1" r="7.15"/><circle cx="294.4" cy="470.6" r="7.15"/><circle cx="254.3" cy="472.4" r="7.15"/><circle cx="388.5" cy="507.5" r="7.15"/><circle cx="265.7" cy="480.4" r="7.15"/><circle cx="503.9" cy="525.4" r="7.15"/><circle cx="267.3" cy="460.9" r="7.15"/><circle cx="130.4" cy="457.4" r="7.15"/><circle cx="387.3" cy="505.5" r="7.15"/><circle cx="558.7" cy="551.7" r="7.15"/><circle cx="247.4" cy="461.4" r="7.15"/><circle cx="368.2" cy="496.2" r="7.15"/><circle cx="378.8" cy="516.9" r="7.15"/><circle cx="410.2" cy="523.5" r="7.15"/><circle cx="489.0" cy="531.0" r="7.15"/><circle cx="205.9" cy="450.9" r="7.15"/><circle cx="401.6" cy="517.6" r="7.15"/><circle cx="488.1" cy="536.2" r="7.15"/><circle cx="200.2" cy="455.0" r="7.15"/><circle cx="497.5" cy="524.0" r="7.15"/><circle cx="270.2" cy="478.2" r="7.15"/><circle cx="475.4" cy="560.5" r="7.15"/><circle cx="541.3" cy="560.6" r="7.15"/><circle cx="229.0" cy="469.7" r="7.15"/><circle cx="361.5" cy="501.2" r="7.15"/><circle cx="541.7" cy="557.2" r="7.15"/><circle cx="473.0" cy="533.3" r="7.15"/><circle cx="528.3" cy="530.3" r="7.15"/><circle cx="522.4" cy="550.1" r="7.15"/><circle cx="394.4" cy="519.3" r="7.15"/><circle cx="354.7" cy="490.7" r="7.15"/><circle cx="168.7" cy="462.8" r="7.15"/><circle cx="524.9" cy="548.7" r="7.15"/><circle cx="345.7" cy="480.4" r="7.15"/><circle cx="507.0" cy="539.8" r="7.15"/><circle cx="348.0" cy="484.4" r="7.15"/><circle cx="144.9" cy="457.5" r="7.15"/><circle cx="129.8" cy="447.4" r="7.15"/><circle cx="356.6" cy="495.7" r="7.15"/><circle cx="425.1" cy="555.2" r="7.15"/><circle cx="427.6" cy="526.9" r="7.15"/><circle cx="394.1" cy="515.6" r="7.15"/><circle cx="359.1" cy="509.1" r="7.15"/><circle cx="230.2" cy="474.2" r="7.15"/><circle cx="153.9" cy="455.8" r="7.15"/><circle cx="276.1" cy="475.6" r="7.15"/><circle cx="159.4" cy="444.8" r="7.15"/><circle cx="195.9" cy="447.1" r="7.15"/><circle cx="469.9" cy="536.3" r="7.15"/><circle cx="323.6" cy="478.6" r="7.15"/><circle cx="194.0" cy="468.0" r="7.15"/><circle cx="340.5" cy="482.6" r="7.15"/><circle cx="515.5" cy="556.0" r="7.15"/><circle cx="487.3" cy="546.7" r="7.15"/><circle cx="412.4" cy="529.1" r="7.15"/><circle cx="511.9" cy="544.3" r="7.15"/><circle cx="406.0" cy="522.2" r="7.15"/><circle cx="424.3" cy="527.7" r="7.15"/><circle cx="234.6" cy="466.3" r="7.15"/><circle cx="397.4" cy="515.3" r="7.15"/><circle cx="427.3" cy="543.3" r="7.15"/><circle cx="518.1" cy="519.5" r="7.15"/><circle cx="251.4" cy="464.1" r="7.15"/><circle cx="285.9" cy="484.8" r="7.15"/><circle cx="281.7" cy="483.2" r="7.15"/><circle cx="480.0" cy="545.5" r="7.15"/><circle cx="400.1" cy="524.0" r="7.15"/><circle cx="294.9" cy="475.3" r="7.15"/><circle cx="352.7" cy="498.6" r="7.15"/><circle cx="468.7" cy="533.1" r="7.15"/><circle cx="211.0" cy="455.1" r="7.15"/><circle cx="141.1" cy="459.1" r="7.15"/><circle cx="389.9" cy="515.9" r="7.15"/><circle cx="267.3" cy="468.6" r="7.15"/><circle cx="146.6" cy="449.9" r="7.15"/><circle cx="526.3" cy="545.7" r="7.15"/><circle cx="211.7" cy="465.2" r="7.15"/><circle cx="419.8" cy="541.7" r="7.15"/><circle cx="522.0" cy="531.4" r="7.15"/><circle cx="179.4" cy="462.2" r="7.15"/><circle cx="322.6" cy="469.9" r="7.15"/><circle cx="535.9" cy="575.2" r="7.15"/><circle cx="132.1" cy="456.0" r="7.15"/><circle cx="380.5" cy="482.2" r="7.15"/><circle cx="140.8" cy="459.5" r="7.15"/><circle cx="444.4" cy="536.3" r="7.15"/><circle cx="246.6" cy="477.7" r="7.15"/><circle cx="434.4" cy="561.2" r="7.15"/><circle cx="252.8" cy="462.7" r="7.15"/><circle cx="254.4" cy="468.8" r="7.15"/><circle cx="386.4" cy="493.8" r="7.15"/><circle cx="389.1" cy="490.2" r="7.15"/><circle cx="166.7" cy="458.9" r="7.15"/><circle cx="519.2" cy="566.0" r="7.15"/><circle cx="465.9" cy="550.9" r="7.15"/><circle cx="287.7" cy="468.6" r="7.15"/><circle cx="203.8" cy="454.1" r="7.15"/><circle cx="413.6" cy="547.9" r="7.15"/><circle cx="141.4" cy="465.9" r="7.15"/><circle cx="498.8" cy="536.6" r="7.15"/><circle cx="498.3" cy="523.6" r="7.15"/><circle cx="290.2" cy="476.6" r="7.15"/><circle cx="227.5" cy="464.5" r="7.15"/><circle cx="466.8" cy="534.5" r="7.15"/><circle cx="451.1" cy="531.6" r="7.15"/><circle cx="350.3" cy="486.0" r="7.15"/><circle cx="252.0" cy="472.1" r="7.15"/><circle cx="506.4" cy="553.8" r="7.15"/><circle cx="277.4" cy="470.8" r="7.15"/><circle cx="191.0" cy="466.0" r="7.15"/><circle cx="283.4" cy="474.6" r="7.15"/><circle cx="420.8" cy="548.6" r="7.15"/><circle cx="267.7" cy="461.9" r="7.15"/><circle cx="514.6" cy="545.8" r="7.15"/><circle cx="304.3" cy="466.7" r="7.15"/><circle cx="496.5" cy="540.2" r="7.15"/><circle cx="371.0" cy="514.4" r="7.15"/><circle cx="216.9" cy="463.4" r="7.15"/><circle cx="421.5" cy="540.5" r="7.15"/><circle cx="194.9" cy="458.7" r="7.15"/><circle cx="389.1" cy="503.8" r="7.15"/><circle cx="448.5" cy="553.4" r="7.15"/><circle cx="227.7" cy="470.5" r="7.15"/><circle cx="410.8" cy="523.4" r="7.15"/><circle cx="153.0" cy="465.2" r="7.15"/><circle cx="282.8" cy="478.2" r="7.15"/><circle cx="408.2" cy="520.8" r="7.15"/><circle cx="304.5" cy="493.1" r="7.15"/><circle cx="545.9" cy="547.5" r="7.15"/><circle cx="219.3" cy="460.1" r="7.15"/><circle cx="487.5" cy="547.4" r="7.15"/><circle cx="147.0" cy="441.9" r="7.15"/><circle cx="494.1" cy="553.9" r="7.15"/><circle cx="299.0" cy="483.5" r="7.15"/><circle cx="144.2" cy="446.2" r="7.15"/><circle cx="276.6" cy="474.2" r="7.15"/><circle cx="349.2" cy="503.9" r="7.15"/><circle cx="400.3" cy="520.3" r="7.15"/><circle cx="390.2" cy="499.1" r="7.15"/><circle cx="377.4" cy="496.5" r="7.15"/><circle cx="541.8" cy="559.0" r="7.15"/><circle cx="487.7" cy="550.2" r="7.15"/><circle cx="301.7" cy="480.7" r="7.15"/><circle cx="201.7" cy="462.0" r="7.15"/><circle cx="473.1" cy="544.5" r="7.15"/><circle cx="327.8" cy="476.3" r="7.15"/><circle cx="147.2" cy="441.3" r="7.15"/><circle cx="404.9" cy="506.3" r="7.15"/><circle cx="550.9" cy="548.4" r="7.15"/><circle cx="473.0" cy="552.6" r="7.15"/><circle cx="399.5" cy="521.3" r="7.15"/><circle cx="328.0" cy="476.8" r="7.15"/><circle cx="214.4" cy="469.0" r="7.15"/><circle cx="409.2" cy="524.8" r="7.15"/><circle cx="332.4" cy="473.8" r="7.15"/><circle cx="454.9" cy="533.4" r="7.15"/><circle cx="509.6" cy="544.1" r="7.15"/><circle cx="193.3" cy="458.3" r="7.15"/><circle cx="179.6" cy="462.5" r="7.15"/><circle cx="344.0" cy="499.0" r="7.15"/><circle cx="367.0" cy="497.8" r="7.15"/><circle cx="404.4" cy="514.1" r="7.15"/><circle cx="151.0" cy="437.1" r="7.15"/><circle cx="317.7" cy="473.1" r="7.15"/><circle cx="207.9" cy="473.4" r="7.15"/><circle cx="236.5" cy="482.9" r="7.15"/><circle cx="488.6" cy="546.7" r="7.15"/><circle cx="420.6" cy="520.8" r="7.15"/><circle cx="527.3" cy="538.4" r="7.15"/><circle cx="383.4" cy="496.9" r="7.15"/><circle cx="229.0" cy="460.1" r="7.15"/><circle cx="503.1" cy="530.3" r="7.15"/><circle cx="523.5" cy="550.1" r="7.15"/><circle cx="192.7" cy="456.2" r="7.15"/><circle cx="394.3" cy="498.5" r="7.15"/><circle cx="505.6" cy="538.9" r="7.15"/><circle cx="406.8" cy="527.3" r="7.15"/><circle cx="366.7" cy="505.7" r="7.15"/><circle cx="511.8" cy="550.1" r="7.15"/><circle cx="190.9" cy="460.3" r="7.15"/><circle cx="339.6" cy="495.6" r="7.15"/><circle cx="454.2" cy="526.0" r="7.15"/><circle cx="171.7" cy="467.4" r="7.15"/><circle cx="211.8" cy="463.6" r="7.15"/><circle cx="539.9" cy="549.6" r="7.15"/><circle cx="245.0" cy="481.9" r="7.15"/><circle cx="276.6" cy="465.5" r="7.15"/><circle cx="379.7" cy="512.8" r="7.15"/><circle cx="342.9" cy="501.6" r="7.15"/><circle cx="427.6" cy="541.8" r="7.15"/><circle cx="237.3" cy="461.3" r="7.15"/><circle cx="173.7" cy="452.2" r="7.15"/><circle cx="200.9" cy="461.6" r="7.15"/><circle cx="160.0" cy="455.4" r="7.15"/><circle cx="160.2" cy="453.4" r="7.15"/><circle cx="427.3" cy="531.5" r="7.15"/><circle cx="209.1" cy="477.8" r="7.15"/><circle cx="211.5" cy="454.0" r="7.15"/><circle cx="460.6" cy="538.4" r="7.15"/><circle cx="141.2" cy="439.8" r="7.15"/><circle cx="162.0" cy="469.2" r="7.15"/><circle cx="230.8" cy="456.7" r="7.15"/><circle cx="159.4" cy="476.7" r="7.15"/><circle cx="328.8" cy="475.9" r="7.15"/><circle cx="524.9" cy="521.2" r="7.15"/><circle cx="331.0" cy="478.2" r="7.15"/><circle cx="424.0" cy="529.1" r="7.15"/><circle cx="144.0" cy="443.6" r="7.15"/><circle cx="209.1" cy="456.4" r="7.15"/><circle cx="320.2" cy="473.7" r="7.15"/><circle cx="376.7" cy="486.0" r="7.15"/><circle cx="447.8" cy="537.9" r="7.15"/><circle cx="538.5" cy="550.6" r="7.15"/><circle cx="362.7" cy="474.6" r="7.15"/><circle cx="399.8" cy="506.0" r="7.15"/><circle cx="324.9" cy="493.2" r="7.15"/><circle cx="284.5" cy="473.8" r="7.15"/><circle cx="272.4" cy="467.6" r="7.15"/><circle cx="252.6" cy="464.2" r="7.15"/><circle cx="339.8" cy="475.7" r="7.15"/><circle cx="522.9" cy="535.3" r="7.15"/><circle cx="325.4" cy="470.5" r="7.15"/><circle cx="288.5" cy="476.7" r="7.15"/><circle cx="358.6" cy="470.4" r="7.15"/><circle cx="334.2" cy="476.5" r="7.15"/><circle cx="206.5" cy="470.8" r="7.15"/><circle cx="490.6" cy="523.0" r="7.15"/><circle cx="230.9" cy="476.2" r="7.15"/><circle cx="486.3" cy="568.6" r="7.15"/><circle cx="425.2" cy="538.7" r="7.15"/><circle cx="538.8" cy="552.5" r="7.15"/><circle cx="194.6" cy="461.9" r="7.15"/><circle cx="547.9" cy="567.7" r="7.15"/><circle cx="369.2" cy="514.5" r="7.15"/><circle cx="135.7" cy="453.3" r="7.15"/><circle cx="500.6" cy="536.8" r="7.15"/><circle cx="493.2" cy="547.6" r="7.15"/><circle cx="315.8" cy="475.0" r="7.15"/><circle cx="428.1" cy="523.9" r="7.15"/><circle cx="275.1" cy="475.4" r="7.15"/><circle cx="339.2" cy="470.4" r="7.15"/><circle cx="215.3" cy="476.8" r="7.15"/><circle cx="411.9" cy="504.1" r="7.15"/><circle cx="547.4" cy="556.2" r="7.15"/><circle cx="299.0" cy="487.3" r="7.15"/><circle cx="312.4" cy="489.5" r="7.15"/><circle cx="392.8" cy="521.1" r="7.15"/><circle cx="443.6" cy="519.7" r="7.15"/><circle cx="185.3" cy="450.7" r="7.15"/><circle cx="486.9" cy="523.7" r="7.15"/><circle cx="317.6" cy="469.9" r="7.15"/><circle cx="233.6" cy="473.0" r="7.15"/><circle cx="293.2" cy="460.9" r="7.15"/><circle cx="233.5" cy="478.6" r="7.15"/><circle cx="227.3" cy="477.6" r="7.15"/><circle cx="323.3" cy="492.2" r="7.15"/><circle cx="375.1" cy="512.8" r="7.15"/><circle cx="362.3" cy="493.3" r="7.15"/><circle cx="152.6" cy="462.3" r="7.15"/><circle cx="381.8" cy="495.2" r="7.15"/><circle cx="374.3" cy="515.9" r="7.15"/><circle cx="421.9" cy="522.6" r="7.15"/><circle cx="236.0" cy="459.6" r="7.15"/><circle cx="128.7" cy="454.0" r="7.15"/><circle cx="140.5" cy="442.5" r="7.15"/><circle cx="557.0" cy="560.5" r="7.15"/><circle cx="336.7" cy="484.8" r="7.15"/><circle cx="466.7" cy="529.7" r="7.15"/><circle cx="355.9" cy="473.7" r="7.15"/><circle cx="442.3" cy="531.0" r="7.15"/><circle cx="433.2" cy="533.6" r="7.15"/><circle cx="319.9" cy="475.2" r="7.15"/><circle cx="419.9" cy="526.2" r="7.15"/><circle cx="293.1" cy="466.2" r="7.15"/><circle cx="181.1" cy="468.6" r="7.15"/><circle cx="250.6" cy="468.8" r="7.15"/><circle cx="490.3" cy="558.1" r="7.15"/><circle cx="468.3" cy="529.5" r="7.15"/><circle cx="313.4" cy="469.0" r="7.15"/><circle cx="295.1" cy="471.4" r="7.15"/><circle cx="403.3" cy="528.7" r="7.15"/><circle cx="357.2" cy="474.0" r="7.15"/><circle cx="368.1" cy="484.8" r="7.15"/><circle cx="264.0" cy="476.5" r="7.15"/><circle cx="309.6" cy="489.4" r="7.15"/><circle cx="250.8" cy="462.6" r="7.15"/><circle cx="360.9" cy="516.7" r="7.15"/><circle cx="136.9" cy="449.6" r="7.15"/><circle cx="353.0" cy="500.2" r="7.15"/><circle cx="400.8" cy="510.6" r="7.15"/><circle cx="238.6" cy="471.3" r="7.15"/><circle cx="535.7" cy="539.7" r="7.15"/><circle cx="155.4" cy="457.4" r="7.15"/><circle cx="129.1" cy="451.6" r="7.15"/><circle cx="486.5" cy="545.9" r="7.15"/><circle cx="300.2" cy="486.2" r="7.15"/><circle cx="168.6" cy="453.9" r="7.15"/><circle cx="140.2" cy="448.5" r="7.15"/><circle cx="382.0" cy="502.3" r="7.15"/><circle cx="299.8" cy="477.0" r="7.15"/><circle cx="320.5" cy="477.2" r="7.15"/><circle cx="438.0" cy="533.2" r="7.15"/><circle cx="528.8" cy="539.4" r="7.15"/><circle cx="159.6" cy="464.3" r="7.15"/><circle cx="441.4" cy="526.4" r="7.15"/><circle cx="130.8" cy="448.3" r="7.15"/><circle cx="427.1" cy="530.0" r="7.15"/><circle cx="291.4" cy="474.3" r="7.15"/><circle cx="135.9" cy="460.6" r="7.15"/><circle cx="528.4" cy="535.7" r="7.15"/><circle cx="399.4" cy="526.5" r="7.15"/><circle cx="428.9" cy="536.6" r="7.15"/><circle cx="212.4" cy="459.6" r="7.15"/><circle cx="471.2" cy="516.2" r="7.15"/><circle cx="520.2" cy="551.6" r="7.15"/><circle cx="433.9" cy="507.9" r="7.15"/><circle cx="515.5" cy="551.2" r="7.15"/><circle cx="255.8" cy="470.9" r="7.15"/><circle cx="195.6" cy="467.9" r="7.15"/><circle cx="351.6" cy="500.1" r="7.15"/><circle cx="146.1" cy="468.1" r="7.15"/><circle cx="279.6" cy="487.8" r="7.15"/><circle cx="219.8" cy="465.1" r="7.15"/><circle cx="294.4" cy="482.0" r="7.15"/><circle cx="470.8" cy="548.5" r="7.15"/><circle cx="150.6" cy="455.1" r="7.15"/><circle cx="146.9" cy="451.1" r="7.15"/><circle cx="469.8" cy="524.4" r="7.15"/><circle cx="447.3" cy="539.9" r="7.15"/><circle cx="150.8" cy="438.5" r="7.15"/><circle cx="449.7" cy="532.5" r="7.15"/><circle cx="527.6" cy="541.0" r="7.15"/><circle cx="452.6" cy="550.8" r="7.15"/><circle cx="399.3" cy="523.5" r="7.15"/><circle cx="355.6" cy="473.7" r="7.15"/><circle cx="535.0" cy="547.5" r="7.15"/><circle cx="443.8" cy="533.8" r="7.15"/><circle cx="156.7" cy="463.9" r="7.15"/><circle cx="242.7" cy="472.6" r="7.15"/><circle cx="285.8" cy="471.7" r="7.15"/><circle cx="143.5" cy="454.9" r="7.15"/><circle cx="283.7" cy="479.9" r="7.15"/><circle cx="478.0" cy="555.3" r="7.15"/><circle cx="272.6" cy="486.9" r="7.15"/><circle cx="154.5" cy="470.8" r="7.15"/><circle cx="373.7" cy="486.3" r="7.15"/><circle cx="288.2" cy="473.3" r="7.15"/><circle cx="426.3" cy="532.1" r="7.15"/><circle cx="340.1" cy="495.3" r="7.15"/><circle cx="415.9" cy="543.4" r="7.15"/><circle cx="432.8" cy="544.0" r="7.15"/><circle cx="544.9" cy="542.0" r="7.15"/><circle cx="188.0" cy="464.5" r="7.15"/><circle cx="323.6" cy="480.4" r="7.15"/><circle cx="359.2" cy="477.6" r="7.15"/><circle cx="283.4" cy="480.4" r="7.15"/><circle cx="398.9" cy="509.8" r="7.15"/><circle cx="184.6" cy="462.4" r="7.15"/><circle cx="174.9" cy="440.1" r="7.15"/><circle cx="211.1" cy="461.5" r="7.15"/><circle cx="168.4" cy="468.1" r="7.15"/><circle cx="213.4" cy="472.5" r="7.15"/><circle cx="442.0" cy="531.3" r="7.15"/><circle cx="562.2" cy="470.0" r="7.15"/><circle cx="581.9" cy="526.2" r="7.15"/><circle cx="635.8" cy="536.2" r="7.15"/><circle cx="651.5" cy="536.9" r="7.15"/><circle cx="658.8" cy="553.1" r="7.15"/><circle cx="571.9" cy="539.4" r="7.15"/><circle cx="565.2" cy="535.4" r="7.15"/><circle cx="561.4" cy="538.6" r="7.15"/><circle cx="585.9" cy="541.1" r="7.15"/><circle cx="591.4" cy="544.9" r="7.15"/><circle cx="600.1" cy="540.6" r="7.15"/><circle cx="605.1" cy="539.9" r="7.15"/><circle cx="608.9" cy="544.1" r="7.15"/><circle cx="603.9" cy="548.6" r="7.15"/><circle cx="602.6" cy="543.6" r="7.15"/><circle cx="606.4" cy="542.4" r="7.15"/><circle cx="588.9" cy="557.9" r="7.15"/><circle cx="588.9" cy="564.9" r="7.15"/><circle cx="592.6" cy="573.6" r="7.15"/><circle cx="569.4" cy="564.9" r="7.15"/><circle cx="546.0" cy="578.6" r="7.15"/><circle cx="521.0" cy="518.7" r="7.15"/><circle cx="515.2" cy="517.4" r="7.15"/><circle cx="130.0" cy="441.2" r="7.15"/><circle cx="166.2" cy="432.0" r="7.15"/><circle cx="184.9" cy="439.4" r="7.15"/><circle cx="209.3" cy="442.9" r="7.15"/><circle cx="246.0" cy="446.9" r="7.15"/><circle cx="261.0" cy="452.4" r="7.15"/><circle cx="156.2" cy="481.1" r="7.15"/><circle cx="142.4" cy="474.9" r="7.15"/><circle cx="209.8" cy="486.1" r="7.15"/><circle cx="234.8" cy="491.1" r="7.15"/><circle cx="242.3" cy="493.6" r="7.15"/><circle cx="259.8" cy="496.1" r="7.15"/><circle cx="186.1" cy="474.9" r="7.15"/><circle cx="447.9" cy="582.3" r="7.15"/><circle cx="446.2" cy="573.6" r="7.15"/><circle cx="467.4" cy="574.8" r="7.15"/><circle cx="482.4" cy="571.1" r="7.15"/><circle cx="499.9" cy="576.1" r="7.15"/><circle cx="511.1" cy="569.9" r="7.15"/><circle cx="546.0" cy="577.3" r="7.15"/><circle cx="529.8" cy="569.9" r="7.15"/><circle cx="451.2" cy="504.9" r="7.15"/><circle cx="458.7" cy="507.4" r="7.15"/><circle cx="466.2" cy="508.7" r="7.15"/><circle cx="486.1" cy="511.2" r="7.15"/><circle cx="504.8" cy="512.4" r="7.15"/><circle cx="514.8" cy="517.4" r="7.15"/><circle cx="522.3" cy="517.4" r="7.15"/><circle cx="413.7" cy="504.9" r="7.15"/><circle cx="327.4" cy="521.1" r="7.15"/><circle cx="361.9" cy="521.1" r="7.15"/></g>
<g class="p" fill="#56106e" fill-opacity="0.4" stroke="#56106e" stroke-opacity="0.42" stroke-width="2.4"><circle cx="349.6" cy="456.2" r="7.15"/><circle cx="307.2" cy="458.4" r="7.15"/><circle cx="397.6" cy="458.4" r="7.15"/><circle cx="382.6" cy="463.4" r="7.15"/><circle cx="342.9" cy="467.2" r="7.15"/><circle cx="382.1" cy="470.4" r="7.15"/><circle cx="269.8" cy="499.0" r="7.15"/><circle cx="268.5" cy="505.2" r="7.15"/><circle cx="299.4" cy="493.7" r="7.15"/><circle cx="318.2" cy="498.7" r="7.15"/><circle cx="275.7" cy="496.2" r="7.15"/><circle cx="282.0" cy="499.9" r="7.15"/><circle cx="289.5" cy="503.7" r="7.15"/><circle cx="289.5" cy="509.9" r="7.15"/><circle cx="303.2" cy="509.4" r="7.15"/><circle cx="315.7" cy="503.7" r="7.15"/><circle cx="323.2" cy="508.6" r="7.15"/><circle cx="344.4" cy="516.1" r="7.15"/><circle cx="373.1" cy="522.4" r="7.15"/></g>
<rect x="115" y="13.5" width="133.7" height="195.5" fill="#fff"/>
<rect x="142.4" y="83.6" width="39.6" height="42.3" fill="#56106e"/><rect x="142.4" y="133" width="39.6" height="42.9" fill="#fbb61a"/>
<text x="139.5" y="62.5" font-size="33.4">Rx</text><text x="205" y="113.6" font-size="33.6" text-anchor="middle">0</text><text x="204.3" y="170" font-size="33.6" text-anchor="middle">1</text><rect x="195" y="166.3" width="8" height="5.2" fill="#fff"/><rect x="207.1" y="166.3" width="8" height="5.2" fill="#fff"/>
<path d="M103.95 1.2H683.8V853.6H103.95Z" fill="none" stroke="#333" stroke-width="2.4"/>
<g stroke="#333" stroke-width="4.1"><line x1="199.3" x2="199.3" y1="854.5" y2="864.6"/><line x1="339.5" x2="339.5" y1="854.5" y2="864.6"/><line x1="479.8" x2="479.8" y1="854.5" y2="864.6"/><line x1="620.0" x2="620.0" y1="854.5" y2="864.6"/><line y1="242.7" y2="242.7" x1="93.4" x2="103"/><line y1="490.8" y2="490.8" x1="93.4" x2="103"/><line y1="738.9" y2="738.9" x1="93.4" x2="103"/></g>
<g font-size="37.3"><text x="199.3" y="894.8" text-anchor="middle">20</text><text x="339.9" y="894.8" text-anchor="middle">40</text><text x="480.4" y="894.8" text-anchor="middle">60</text><text x="620.9" y="894.8" text-anchor="middle">80</text><text x="89.4" y="253.2" text-anchor="end">20</text><text x="89.4" y="501.8" text-anchor="end">0</text><text x="89.4" y="750.5" text-anchor="end">-20</text></g>
<text x="417.7" y="942.6" font-size="36.5" text-anchor="middle">Canopy Cover (%)</text>
<text font-size="36.4" text-anchor="middle" transform="translate(27.6,427.8) rotate(-90.7)">SHAP interaction values</text>
</svg></body></html>
